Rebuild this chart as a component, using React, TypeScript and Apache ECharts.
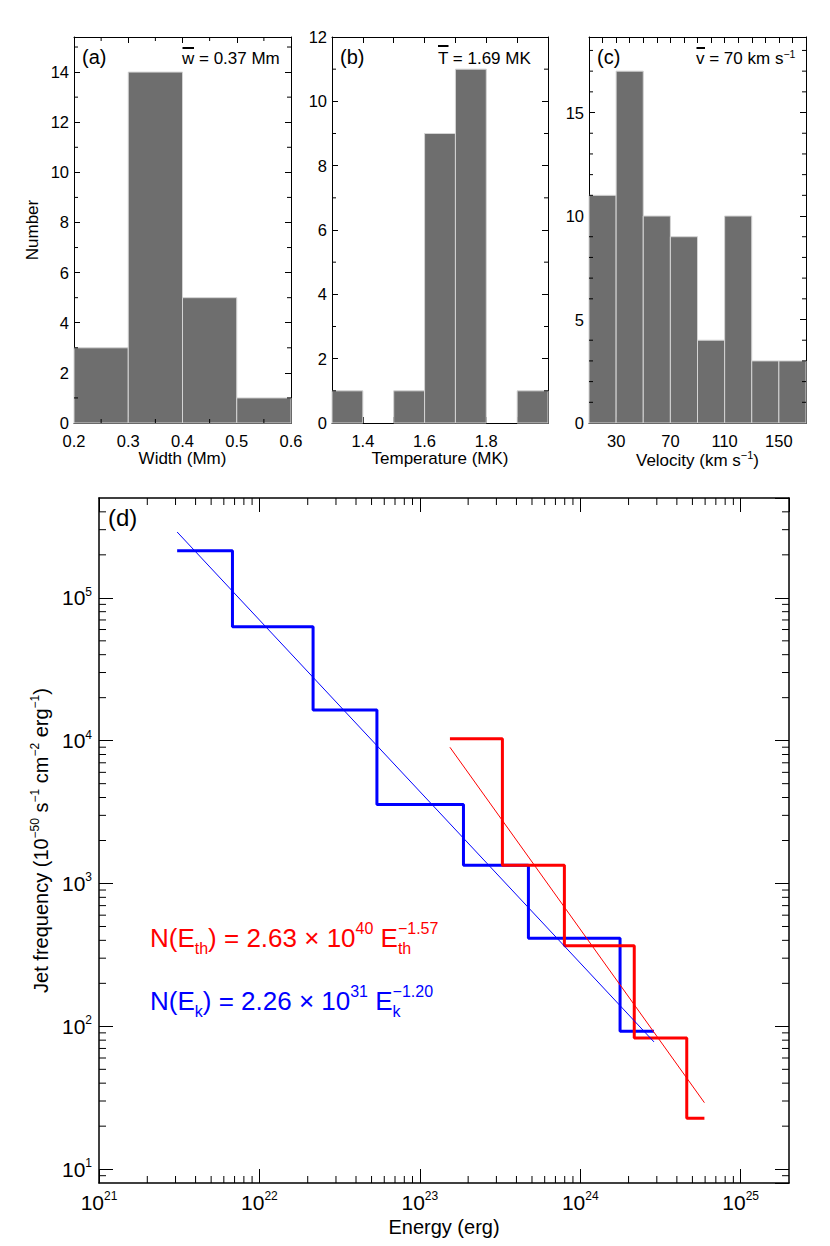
import React, { useEffect, useRef } from 'react';
import * as echarts from 'echarts';

const FONT = '"Liberation Sans", Arial, Helvetica, sans-serif';

// ---------- Panel (a): jet width histogram ----------
const widthBinEdges = [0.2, 0.3, 0.4, 0.5, 0.6];
const widthCounts = [3, 14, 5, 1];
const widthMinorX = [0.25, 0.35, 0.45, 0.55];
const widthMinorY = [1, 3, 5, 7, 9, 11, 13, 15];

// ---------- Panel (b): temperature histogram ----------
const tempBinEdges = [1.3, 1.4, 1.5, 1.6, 1.7, 1.8, 1.9, 2.0];
const tempCounts = [1, 0, 1, 9, 11, 0, 1];
const tempLabelTicks = [1.4, 1.6, 1.8];
const tempMinorY = [1, 3, 5, 7, 9, 11];

// ---------- Panel (c): velocity histogram ----------
const velBinEdges = [10, 30, 50, 70, 90, 110, 130, 150, 170];
const velCounts = [11, 17, 10, 9, 4, 10, 3, 3];
const velLabelTicks = [30, 70, 110, 150];
const velMinorY = [1, 2, 3, 4, 6, 7, 8, 9, 11, 12, 13, 14, 16, 17, 18];

// ---------- Panel (d): jet frequency vs energy ----------
const kinEdges = [3.07e21, 6.79e21, 2.16e22, 5.4e22, 1.87e23, 4.75e23, 1.77e24, 2.88e24];
const kinFreq = [2.14e5, 6.28e4, 1.64e4, 3.58e3, 1.34e3, 414, 92.3];
const thEdges = [1.54e23, 3.27e23, 7.96e23, 2.17e24, 4.61e24, 5.94e24];
const thFreq = [1.03e4, 1.34e3, 366, 83, 22.7];
const kinFitE = [3.07e21, 2.88e24];
const kinFitN = [2.89e5, 77.8];
const thFitE = [1.54e23, 5.94e24];
const thFitN = [8.99e3, 29.2];
const energyRange = [1e21, 2e25];
const freqRange = [8, 5e5];

// log-axis minor tick positions (2..9 x 10^n inside the range)
function logMinor(lo: number, hi: number): number[] {
  const out: number[] = [];
  for (let e = Math.floor(Math.log10(lo)); e <= Math.ceil(Math.log10(hi)); e++) {
    for (let k = 2; k <= 9; k++) {
      const v = k * Math.pow(10, e);
      if (v > lo * 1.0001 && v < hi * 0.9999) out.push(v);
    }
  }
  return out;
}

const G = {
  a: { left: 74, top: 37, width: 217, height: 386 },
  b: { left: 332, top: 37, width: 216, height: 386 },
  c: { left: 589, top: 37, width: 217, height: 386 },
  d: { left: 99, top: 498, width: 690, height: 685 },
};

const lineCol = '#000';

function histData(edges: number[], counts: number[]) {
  return counts.map((c, i) => [edges[i], edges[i + 1], c]);
}

function histSeries(xi: number, yi: number, edges: number[], counts: number[]) {
  return {
    type: 'custom',
    xAxisIndex: xi,
    yAxisIndex: yi,
    silent: true,
    data: histData(edges, counts),
    encode: { x: [0, 1], y: 2 },
    renderItem: (params: any, api: any) => {
      const x0 = api.value(0);
      const x1 = api.value(1);
      const c = api.value(2);
      if (!c) return null;
      const p0 = api.coord([x0, c]);
      const p1 = api.coord([x1, 0]);
      return {
        type: 'rect',
        shape: { x: p0[0], y: p0[1], width: p1[0] - p0[0], height: p1[1] - p0[1] },
        style: { fill: '#6e6e6e', stroke: '#d4d4d4', lineWidth: 1 },
      };
    },
    z: 1,
  };
}

function minorSeries(
  xi: number,
  yi: number,
  xMinor: number[],
  yMinor: number[],
  xRef: number,
  yRef: number,
  len: number
) {
  const data = [
    ...xMinor.map((v) => [v, yRef, 0]),
    ...yMinor.map((v) => [xRef, v, 1]),
  ];
  return {
    type: 'custom',
    xAxisIndex: xi,
    yAxisIndex: yi,
    silent: true,
    clip: false,
    data,
    encode: { x: 0, y: 1 },
    renderItem: (params: any, api: any) => {
      const cs = params.coordSys;
      const kind = api.value(2);
      const p = api.coord([api.value(0), api.value(1)]);
      const st = { stroke: lineCol, lineWidth: 1 };
      if (kind === 0) {
        const x = p[0];
        return {
          type: 'group',
          children: [
            { type: 'line', shape: { x1: x, y1: cs.y + cs.height, x2: x, y2: cs.y + cs.height - len }, style: st },
            { type: 'line', shape: { x1: x, y1: cs.y, x2: x, y2: cs.y + len }, style: st },
          ],
        };
      }
      const y = p[1];
      return {
        type: 'group',
        children: [
          { type: 'line', shape: { x1: cs.x, y1: y, x2: cs.x + len, y2: y }, style: st },
          { type: 'line', shape: { x1: cs.x + cs.width, y1: y, x2: cs.x + cs.width - len, y2: y }, style: st },
        ],
      };
    },
    z: 5,
  };
}

function stepData(edges: number[], vals: number[]) {
  const d = vals.map((v, i) => [edges[i], v]);
  d.push([edges[edges.length - 1], vals[vals.length - 1]]);
  return d;
}

const near = (a: number, b: number) => Math.abs(a - b) < 1e-6;

const topRich = {
  n: { fontSize: 17, fontFamily: FONT, color: '#000', lineHeight: 22 },
  s: { fontSize: 11, fontFamily: FONT, color: '#000', lineHeight: 11, verticalAlign: 'top' },
};

const bigRich = {
  n: { fontSize: 21, fontFamily: FONT, color: '#000', lineHeight: 24 },
  s: { fontSize: 12, fontFamily: FONT, color: '#000', lineHeight: 12, verticalAlign: 'top' },
};

const nameRich = {
  n: { fontSize: 20, fontFamily: FONT, color: '#000', lineHeight: 24 },
  s: { fontSize: 12, fontFamily: FONT, color: '#000', lineHeight: 12, verticalAlign: 'top' },
};

function baseAxis(tickLen: number, lw: number) {
  return {
    axisLine: { show: true, onZero: false, lineStyle: { color: lineCol, width: lw } },
    axisTick: { show: true, inside: true, length: tickLen, lineStyle: { color: lineCol, width: 1 } },
    splitLine: { show: false },
    minorTick: { show: false },
  };
}

function mirrorX(src: any) {
  return { ...src, position: 'top', name: '', axisLabel: { show: false } };
}
function mirrorY(src: any) {
  return { ...src, position: 'right', name: '', axisLabel: { show: false } };
}

function buildOption() {
  const tickTop = 6;
  const labelTop = { fontSize: 16.5, fontFamily: FONT, color: '#000' };

  const xA: any = {
    ...baseAxis(tickTop, 1),
    type: 'value',
    gridIndex: 0,
    position: 'bottom',
    min: 0.2,
    max: 0.6,
    interval: 0.1,
    axisLabel: { ...labelTop, margin: 9, showMinLabel: true, showMaxLabel: true, formatter: (v: number) => v.toFixed(1) },
    name: 'Width (Mm)',
    nameLocation: 'middle',
    nameGap: 25,
    nameTextStyle: { fontSize: 17, fontFamily: FONT, color: '#000' },
  };
  const xB: any = {
    ...baseAxis(tickTop, 1),
    type: 'value',
    gridIndex: 1,
    position: 'bottom',
    min: 1.3,
    max: 2.0,
    interval: 0.1,
    axisLabel: {
      ...labelTop,
      margin: 9,
      showMinLabel: true,
      showMaxLabel: true,
      formatter: (v: number) => {
        const t = tempLabelTicks.find((k) => near(k, v));
        return t !== undefined ? t.toFixed(1) : '';
      },
    },
    name: 'Temperature (MK)',
    nameLocation: 'middle',
    nameGap: 25,
    nameTextStyle: { fontSize: 17, fontFamily: FONT, color: '#000' },
  };
  const xC: any = {
    ...baseAxis(tickTop, 1),
    type: 'value',
    gridIndex: 2,
    position: 'bottom',
    min: 10,
    max: 170,
    interval: 10,
    axisLabel: {
      ...labelTop,
      margin: 9,
      showMinLabel: true,
      showMaxLabel: true,
      formatter: (v: number) => (velLabelTicks.some((k) => near(k, v)) ? String(Math.round(v)) : ''),
    },
    name: '{n|Velocity (km s}{s|−1}{n|)}',
    nameLocation: 'middle',
    nameGap: 22,
    nameTextStyle: { fontSize: 17, fontFamily: FONT, color: '#000', rich: topRich },
  };
  const logFmt = (v: number) => {
    const l = Math.log10(v);
    const e = Math.round(l);
    return Math.abs(l - e) < 1e-6 ? `{n|10}{s|${e}}` : '';
  };
  const xD: any = {
    ...baseAxis(14, 1.5),
    type: 'log',
    logBase: 10,
    gridIndex: 3,
    position: 'bottom',
    min: energyRange[0],
    max: energyRange[1],
    axisLabel: {
      fontSize: 21,
      fontFamily: FONT,
      color: '#000',
      margin: 7,
      showMinLabel: true,
      showMaxLabel: false,
      formatter: logFmt,
      rich: bigRich,
    },
    name: 'Energy (erg)',
    nameLocation: 'middle',
    nameGap: 29,
    nameTextStyle: { fontSize: 20, fontFamily: FONT, color: '#000' },
  };

  const yA: any = {
    ...baseAxis(tickTop, 1),
    type: 'value',
    gridIndex: 0,
    position: 'left',
    min: 0,
    max: 15.4,
    interval: 2,
    axisLabel: {
      ...labelTop,
      margin: 5,
      showMaxLabel: false,
      formatter: (v: number) => (near(v % 2, 0) && v <= 14 ? String(Math.round(v)) : ''),
    },
    name: 'Number',
    nameLocation: 'middle',
    nameGap: 33,
    nameTextStyle: { fontSize: 17, fontFamily: FONT, color: '#000' },
  };
  const yB: any = {
    ...baseAxis(tickTop, 1),
    type: 'value',
    gridIndex: 1,
    position: 'left',
    min: 0,
    max: 12,
    interval: 2,
    axisLabel: { ...labelTop, margin: 5, showMaxLabel: true, formatter: (v: number) => String(Math.round(v)) },
  };
  const yC: any = {
    ...baseAxis(tickTop, 1),
    type: 'value',
    gridIndex: 2,
    position: 'left',
    min: 0,
    max: 18.65,
    interval: 5,
    axisLabel: {
      ...labelTop,
      margin: 5,
      showMaxLabel: false,
      formatter: (v: number) => (near(v % 5, 0) && v <= 15 ? String(Math.round(v)) : ''),
    },
  };
  const yD: any = {
    ...baseAxis(14, 1.5),
    type: 'log',
    logBase: 10,
    gridIndex: 3,
    position: 'left',
    min: freqRange[0],
    max: freqRange[1],
    axisLabel: {
      fontSize: 21,
      fontFamily: FONT,
      color: '#000',
      margin: 7,
      showMinLabel: false,
      showMaxLabel: false,
      formatter: logFmt,
      rich: bigRich,
    },
    name: '{n|Jet frequency (10}{s|−50}{n| s}{s|−1}{n| cm}{s|−2}{n| erg}{s|−1}{n|)}',
    nameLocation: 'middle',
    nameGap: 45,
    nameTextStyle: { fontSize: 20, fontFamily: FONT, color: '#000', rich: nameRich },
  };

  const xAxis = [xA, mirrorX(xA), xB, mirrorX(xB), xC, mirrorX(xC), xD, mirrorX(xD)];
  const yAxis = [yA, mirrorY(yA), yB, mirrorY(yB), yC, mirrorY(yC), yD, mirrorY(yD)];

  const eqRich = (col: string) => ({
    n: { fontSize: 26, fontFamily: FONT, fill: col, lineHeight: 36 },
    b: { fontSize: 16, fontFamily: FONT, fill: col, lineHeight: 16, verticalAlign: 'bottom' },
    z: { fontSize: 16, fontFamily: FONT, fill: col, lineHeight: 16, verticalAlign: 'bottom', width: 0 },
    p: { fontSize: 16, fontFamily: FONT, fill: col, lineHeight: 16, verticalAlign: 'top' },
  });

  const labelStyle = (text: string, size: number, col = '#000') => ({
    text,
    fontSize: size,
    fontFamily: FONT,
    fill: col,
    align: 'left',
    verticalAlign: 'middle',
    textAlign: 'left',
    textVerticalAlign: 'middle',
  });

  const meanRich = {
    n: { fontSize: 17, fontFamily: FONT, fill: '#000', lineHeight: 20 },
    s: { fontSize: 10.5, fontFamily: FONT, fill: '#000', lineHeight: 10, verticalAlign: 'top' },
  };

  const graphic: any[] = [
    { type: 'text', x: 82, y: 57, style: labelStyle('(a)', 20), z: 10 },
    { type: 'text', x: 340, y: 57, style: labelStyle('(b)', 20), z: 10 },
    { type: 'text', x: 597, y: 57, style: labelStyle('(c)', 20), z: 10 },
    { type: 'text', x: 108, y: 517, style: labelStyle('(d)', 24), z: 10 },
    // mean values
    { type: 'text', x: 182, y: 58, style: labelStyle('w = 0.37 Mm', 17), z: 10 },
    { type: 'rect', shape: { x: 182.5, y: 47, width: 11.5, height: 2 }, style: { fill: '#000' }, z: 10 },
    { type: 'text', x: 438, y: 58, style: labelStyle('T = 1.69 MK', 17), z: 10 },
    { type: 'rect', shape: { x: 438, y: 45, width: 10.5, height: 2 }, style: { fill: '#000' }, z: 10 },
    {
      type: 'text',
      x: 696,
      y: 58,
      style: { ...labelStyle('{n|v = 70 km s}{s|−1}', 17), rich: meanRich },
      z: 10,
    },
    { type: 'rect', shape: { x: 696.5, y: 47, width: 8.5, height: 2 }, style: { fill: '#000' }, z: 10 },
    // fit equations
    {
      type: 'text',
      x: 150,
      y: 938,
      style: {
        ...labelStyle('{n|N(E}{b|th}{n|) = 2.63 × 10}{p|40}{n| E}{z|th}{p|−1.57}', 26, '#ff0000'),
        rich: eqRich('#ff0000'),
      },
      z: 10,
    },
    {
      type: 'text',
      x: 150,
      y: 1001,
      style: {
        ...labelStyle('{n|N(E}{b|k}{n|) = 2.26 × 10}{p|31}{n| E}{z|k}{p|−1.20}', 26, '#0000ff'),
        rich: eqRich('#0000ff'),
      },
      z: 10,
    },
  ];

  const series: any[] = [
    histSeries(0, 0, widthBinEdges, widthCounts),
    histSeries(2, 2, tempBinEdges, tempCounts),
    histSeries(4, 4, velBinEdges, velCounts),
    minorSeries(0, 0, widthMinorX, widthMinorY, 0.2, 0, 4),
    minorSeries(2, 2, [], tempMinorY, 1.3, 0, 4),
    minorSeries(4, 4, [], velMinorY, 10, 0, 4),
    minorSeries(
      6,
      6,
      logMinor(energyRange[0], energyRange[1]),
      logMinor(freqRange[0], freqRange[1]),
      energyRange[0],
      freqRange[0],
      7
    ),
    {
      type: 'line',
      xAxisIndex: 6,
      yAxisIndex: 6,
      step: 'end',
      data: stepData(kinEdges, kinFreq),
      symbol: 'none',
      lineStyle: { color: '#0000ff', width: 3 },
      itemStyle: { color: '#0000ff' },
      z: 2,
    },
    {
      type: 'line',
      xAxisIndex: 6,
      yAxisIndex: 6,
      step: 'end',
      data: stepData(thEdges, thFreq),
      symbol: 'none',
      lineStyle: { color: '#ff0000', width: 3 },
      itemStyle: { color: '#ff0000' },
      z: 2,
    },
    {
      type: 'line',
      xAxisIndex: 6,
      yAxisIndex: 6,
      data: kinFitE.map((e, i) => [e, kinFitN[i]]),
      symbol: 'none',
      lineStyle: { color: '#0000ff', width: 1 },
      itemStyle: { color: '#0000ff' },
      z: 3,
    },
    {
      type: 'line',
      xAxisIndex: 6,
      yAxisIndex: 6,
      data: thFitE.map((e, i) => [e, thFitN[i]]),
      symbol: 'none',
      lineStyle: { color: '#ff0000', width: 1 },
      itemStyle: { color: '#ff0000' },
      z: 3,
    },
  ];

  return {
    animation: false,
    backgroundColor: '#ffffff',
    textStyle: { fontFamily: FONT },
    grid: [
      { ...G.a, outerBoundsMode: 'none', containLabel: false },
      { ...G.b, outerBoundsMode: 'none', containLabel: false },
      { ...G.c, outerBoundsMode: 'none', containLabel: false },
      { ...G.d, outerBoundsMode: 'none', containLabel: false },
    ],
    xAxis,
    yAxis,
    series,
    graphic,
  };
}

export default function App() {
  const ref = useRef<HTMLDivElement>(null);
  useEffect(() => {
    if (!ref.current) return;
    const chart = echarts.init(ref.current, undefined, { renderer: 'svg' });
    chart.setOption(buildOption() as any);
    return () => chart.dispose();
  }, []);
  return (
    <div
      ref={ref}
      style={{ position: 'absolute', left: 0, top: 0, width: 830, height: 1246, background: '#fff' }}
    />
  );
}
